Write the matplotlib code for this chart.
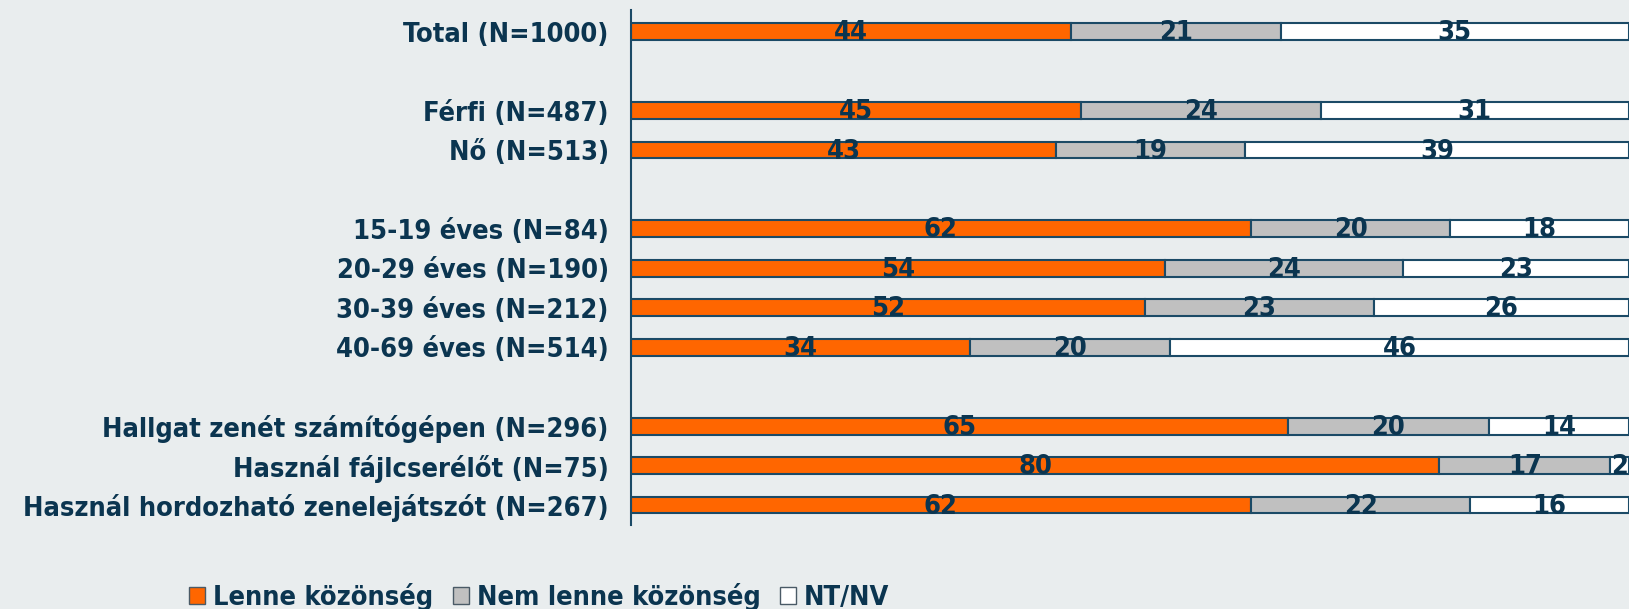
import numpy as np
import matplotlib.pyplot as plt

categories = ["Total (N=1000)", "Férfi (N=487)", "Nő (N=513)",
              "15-19 éves (N=84)", "20-29 éves (N=190)", "30-39 éves (N=212)",
              "40-69 éves (N=514)", "Hallgat zenét számítógépen (N=296)",
              "Használ fájlcserélőt (N=75)", "Használ hordozható zenelejátszót (N=267)"]
# row slots, gaps between groups
rows = [0, 2, 3, 5, 6, 7, 8, 10, 11, 12]

# segment widths (%)
lenne = [44.1, 45.1, 42.6, 62.1, 53.5, 51.5, 34.0, 65.8, 81.0, 62.1]
nem_lenne = [21.0, 24.0, 18.9, 20.0, 23.9, 22.9, 20.0, 20.2, 17.1, 22.0]
nt_nv = [34.9, 30.9, 38.5, 17.9, 22.6, 25.6, 46.0, 14.0, 1.9, 15.9]
# printed labels
lenne_lbl = [44, 45, 43, 62, 54, 52, 34, 65, 80, 62]
nem_lenne_lbl = [21, 24, 19, 20, 24, 23, 20, 20, 17, 22]
nt_nv_lbl = [35, 31, 39, 18, 23, 26, 46, 14, 2, 16]
series_names = ["Lenne közönség", "Nem lenne közönség", "NT/NV"]

colors = ["#FF6600", "#C0C0C0", "#FFFFFF"]
edge = "#1B4A66"
txt = "#0B3550"
bg = "#E9EDEE"

plt.rcParams['font.family'] = 'DejaVu Sans'
font = dict(stretch='condensed', weight='bold', size=19.5, color=txt)

fig = plt.figure(figsize=(16.29, 6.09), dpi=100, facecolor=bg)
ax = fig.add_axes([631 / 1629, 84.3 / 609, 1 - 631 / 1629, 514.3 / 609])
ax.set_facecolor(bg)

left = np.zeros(len(rows))
for vals, lbls, col, name in zip([lenne, nem_lenne, nt_nv],
                                 [lenne_lbl, nem_lenne_lbl, nt_nv_lbl],
                                 colors, series_names):
    vals = np.array(vals, dtype=float)
    ax.barh(rows, vals, left=left, height=0.43, color=col, edgecolor=edge,
            linewidth=1.5, label=name)
    for r, l, v, s in zip(rows, left, vals, lbls):
        ax.text(l + v / 2, r + 0.04, str(s), ha='center', va='center',
                clip_on=True, **font)
    left += vals

ax.set_xlim(0, 100)
ax.set_ylim(12.5, -0.54)
ax.set_yticks(rows)
ax.set_yticklabels(categories, fontdict=font)
ax.tick_params(axis='y', length=0, pad=16)
ax.set_xticks([])
for s in ['top', 'right', 'bottom']:
    ax.spines[s].set_visible(False)
ax.spines['left'].set_color(edge)
ax.spines['left'].set_linewidth(1.5)

leg = fig.legend(loc='center', bbox_to_anchor=(0.331, 0.02), ncol=3,
                 frameon=False, handlelength=0.6, handleheight=0.6,
                 handletextpad=0.3, columnspacing=0.7,
                 prop=dict(family='DejaVu Sans', stretch='condensed',
                           weight='bold', size=19.5))
for t in leg.get_texts():
    t.set_color(txt)
for h in leg.legend_handles:
    h.set_edgecolor("#4A5A66")
    h.set_linewidth(1)

fig.savefig("out.png", dpi=100, facecolor=bg)
